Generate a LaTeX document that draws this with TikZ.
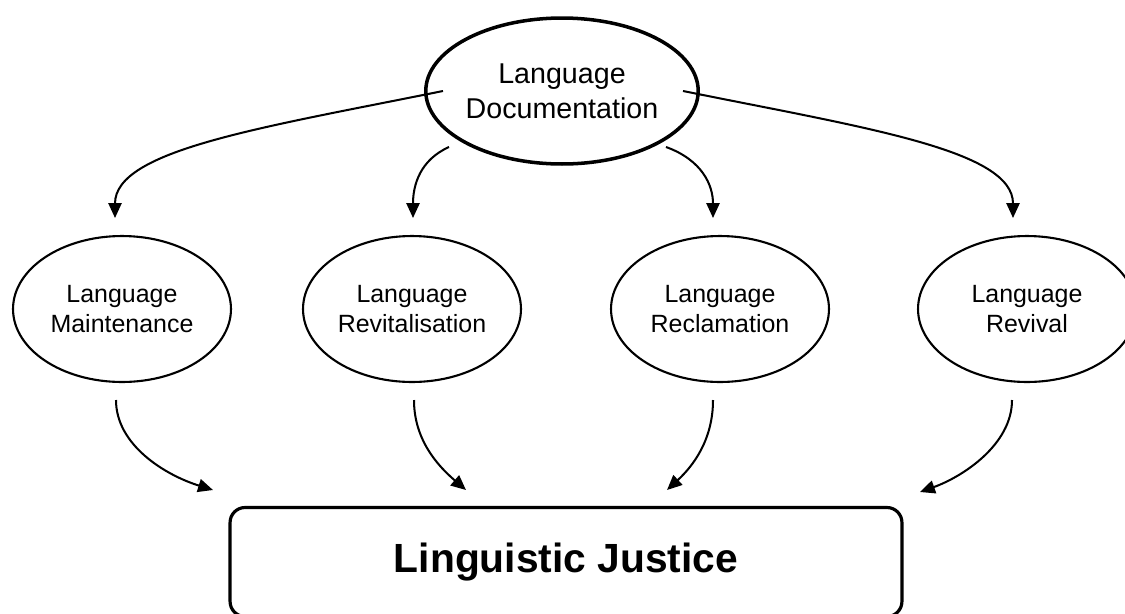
\documentclass[tikz,border=0pt]{standalone}
\usepackage{fontspec}
\setmainfont{Liberation Sans}
\usetikzlibrary{shapes.geometric,arrows.meta}
\tikzset{
  midell/.style={draw, ellipse, line width=1.2pt, inner sep=0pt,
    minimum width=4.36cm, minimum height=2.92cm, align=center,
    font=\fontsize{14.2pt}{17pt}\selectfont},
  topell/.style={draw, ellipse, line width=2pt, inner sep=0pt,
    minimum width=4.4cm, minimum height=2.92cm, align=center,
    font=\fontsize{16.3pt}{19.8pt}\selectfont},
  goalbox/.style={draw, rectangle, rounded corners=0.3cm, line width=1.8pt,
    minimum width=13.44cm, minimum height=2.18cm, inner sep=0pt,
    font=\fontsize{23.2pt}{27pt}\selectfont\bfseries},
  conn/.style={line width=1.15pt, -{Triangle[length=8.5pt,width=7.5pt]}}
}
\begin{document}
\begin{tikzpicture}[x=0.02cm, y=-0.02cm]
\useasboundingbox (0,0) rectangle (1125,613);
% nodes
\node[topell] (doc) at (562,91) {Language\\Documentation};
\node[midell] (maint) at (122,309) {Language\\Maintenance};
\node[midell] (revit) at (412,309) {Language\\Revitalisation};
\node[midell] (recl) at (720,309) {Language\\Reclamation};
\node[midell] (reviv) at (1027,309) {Language\\Revival};
\node[goalbox] (just) at (566,562) {Linguistic Justice};
% free ends of connectors
\coordinate (s1) at (443,91);   \coordinate (t1) at (115,218);
\coordinate (s2) at (449,147);  \coordinate (t2) at (413,218);
\coordinate (s3) at (666,147);  \coordinate (t3) at (713,218);
\coordinate (s4) at (683,91);   \coordinate (t4) at (1013,218);
\coordinate (b1) at (116,400);  \coordinate (e1) at (213,490);
\coordinate (b2) at (414,400);  \coordinate (e2) at (466,490);
\coordinate (b3) at (713,400);  \coordinate (e3) at (667,490);
\coordinate (b4) at (1012,400); \coordinate (e4) at (920,492);
% top connectors
\draw[conn] (s1) .. controls (260,128) and (115,150) .. (t1);
\draw[conn] (s2) .. controls (420,160) and (413,185) .. (t2);
\draw[conn] (s3) .. controls (702,160) and (713,185) .. (t3);
\draw[conn] (s4) .. controls (866,128) and (1013,150) .. (t4);
% bottom connectors
\draw[conn] (b1) .. controls (116,445) and (165,475) .. (e1);
\draw[conn] (b2) .. controls (414,440) and (438,466) .. (e2);
\draw[conn] (b3) .. controls (713,440) and (693,466) .. (e3);
\draw[conn] (b4) .. controls (1012,445) and (962,477) .. (e4);
\end{tikzpicture}
\end{document}
